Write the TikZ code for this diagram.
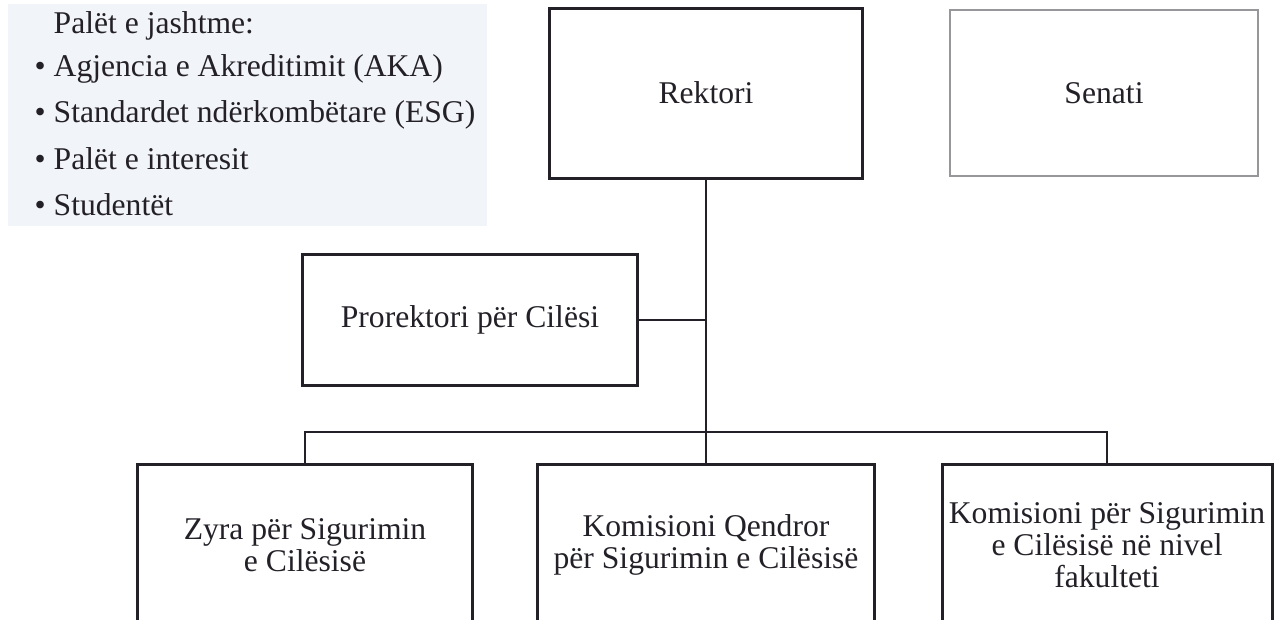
\documentclass[tikz,border=0pt]{standalone}
\usepackage{fontspec}
\setmainfont{Liberation Serif}
\usetikzlibrary{positioning}
\definecolor{panelbg}{RGB}{241,244,248}
\definecolor{inkdark}{RGB}{36,32,40}
\definecolor{inkpale}{RGB}{150,150,155}
\tikzset{
  unit/.style={
    draw=inkdark,
    line width=0.85pt,
    fill=white,
    align=center,
    inner sep=0pt,
    text=inkdark,
    font=\fontsize{9}{9.1}\selectfont
  },
  unit-top/.style={unit, minimum width=31.3mm, minimum height=17mm},
  unit-pale/.style={unit-top, draw=inkpale, line width=0.55pt},
  unit-mid/.style={unit, minimum width=33.5mm, minimum height=13.1mm},
  unit-low/.style={unit, minimum width=33.5mm, minimum height=16.2mm},
  panel-text/.style={anchor=base west, inner sep=0pt, text=inkdark,
    font=\fontsize{9}{9}\selectfont},
  link/.style={draw=inkdark, line width=0.6pt}
}

\begin{document}
\begin{tikzpicture}[x=0.1mm, y=-0.1mm]
  \useasboundingbox (0,0) rectangle (1276,619);
  \clip (0,0) rectangle (1276,619);
  \fill[white] (0,0) rectangle (1276,619);

  % --- Parameters ---
  \def\axis{706}        % x of the main vertical line
  \def\busy{432}        % y of the horizontal bus
  \def\lowy{545}        % centre row of the lower boxes

  % --- External parties panel ---
  \fill[panelbg] (8,4) rectangle (487,226);
  \node[panel-text] (paletTitle) at (53,33) {Palët e jashtme:};
  \foreach \txt [count=\i] in {{Agjencia e Akreditimit (AKA)},
                               {Standardet ndërkombëtare (ESG)},
                               {Palët e interesit},
                               {Studentët}} {
    % baselines step down by about 47px
    \pgfmathsetmacro{\by}{76 + (\i-1)*46.5}
    \node[panel-text] (palet\i) at (34,\by) {• \txt};
  }

  % --- Top row ---
  \node[unit-top] (rektori) at (\axis,93) {Rektori};
  \node[unit-pale, minimum width=30.8mm, minimum height=16.6mm] (senati) at (1104,93) {Senati};

  % --- Vice rector ---
  \node[unit-mid] (prorektori) at (470,320) {Prorektori për Cilësi};

  % --- Lower row ---
  \node[unit-low] (zyra) at (305,\lowy) {Zyra për Sigurimin\\e Cilësisë};
  \node[unit-low, minimum width=33.7mm] (kqendror) at (\axis,\lowy) {Komisioni Qendror\\për Sigurimin e Cilësisë};
  \node[unit-low, minimum width=33mm] (kfakultet) at (1107,\lowy) {Komisioni për Sigurimin\\e Cilësisë në nivel\\fakulteti};

  % --- Connectors ---
  \coordinate (bus) at (\axis,\busy);
  \draw[link] (rektori.south) -- (kqendror.north);
  \draw[link] (prorektori.east) -- (prorektori.east -| rektori.south);
  \draw[link] (zyra.north) |- (bus) -| (kfakultet.north);
\end{tikzpicture}
\end{document}
